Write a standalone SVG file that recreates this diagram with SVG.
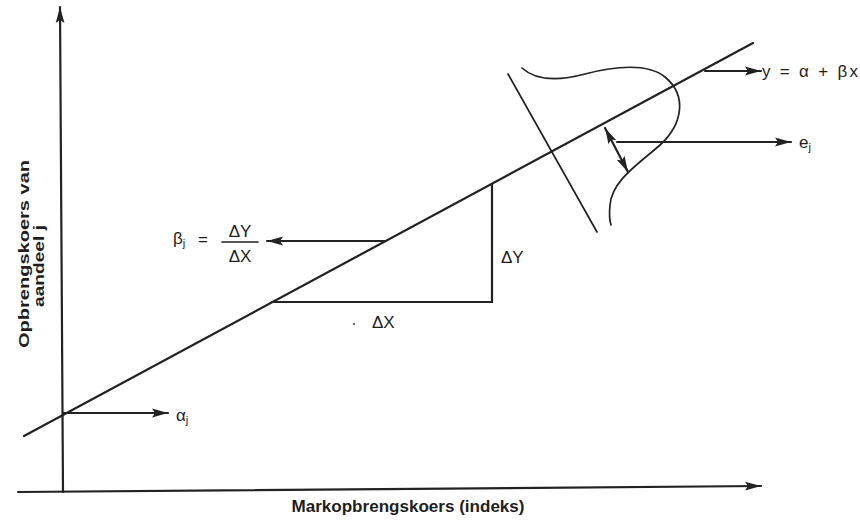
<svg xmlns="http://www.w3.org/2000/svg" width="860" height="522" viewBox="0 0 860 522">
<style>
.ln{stroke:#222;stroke-width:2.2;fill:none;stroke-linecap:round}
.thin{stroke:#222;stroke-width:1.7;fill:none;stroke-linecap:round}
.arr{marker-end:url(#ah)}
.t{font-family:"Liberation Sans","DejaVu Sans",Arial,sans-serif;fill:#1e1e1e}
.b{font-weight:bold}
</style>
<defs>
<marker id="ah" markerUnits="userSpaceOnUse" markerWidth="18" markerHeight="10" refX="16" refY="5" orient="auto-start-reverse">
<path d="M0,0.6 L16,5 L0,9.4 L3,5 z" fill="#222"/>
</marker>
</defs>
<rect width="860" height="522" fill="#fff"/>
<g id="axes">
<line class="ln arr" x1="63" y1="492" x2="60" y2="7"/>
<line class="ln arr" x1="18" y1="492" x2="761" y2="486"/>
</g>
<g id="regression-line">
<line class="ln" x1="24" y1="436" x2="753" y2="43"/>
</g>
<g id="triangle">
<polyline class="ln" points="272,302 492,302 492,184"/>
</g>
<g id="distribution">
<line class="thin" x1="508" y1="74" x2="597" y2="232"/>
<path class="thin" d="M522,68 C535,80 555,82 585,74 C615,66 648,63 665,77 C688,96 682,125 660,145 C640,163 612,180 610,205 C609,215 610,222 611,225"/>
</g>
<g id="connectors">
<line class="ln arr" x1="385" y1="241" x2="267" y2="241"/>
<line class="ln arr" x1="63" y1="413" x2="168" y2="413"/>
<line class="ln arr" x1="617" y1="142" x2="791" y2="142"/>
<line class="ln arr" x1="705" y1="71" x2="761" y2="71"/>
<line class="ln arr" x1="605" y1="128" x2="628" y2="172" style="marker-start:url(#ah)"/>
</g>
<g id="labels">
<text class="t" x="762" y="77" font-size="17" textLength="96">y = α + βx</text>
<text class="t" x="799" y="148" font-size="17">e<tspan font-size="11" dy="3">j</tspan></text>
<text class="t" x="176" y="421" font-size="17">α<tspan font-size="11" dy="3">j</tspan></text>
<text class="t" x="501" y="263" font-size="17">ΔY</text>
<text class="t" x="372" y="328" font-size="17">ΔX</text>
<circle cx="354" cy="324" r="1.1" fill="#444"/>
<g id="beta">
<text class="t" x="173" y="244" font-size="17">β<tspan font-size="11" dy="3">j</tspan></text>
<text class="t" x="198" y="245" font-size="17">=</text>
<text class="t" x="240" y="237" font-size="17" text-anchor="middle">ΔY</text>
<line class="thin" x1="222" y1="242" x2="258" y2="242"/>
<text class="t" x="240" y="262" font-size="17" text-anchor="middle">ΔX</text>
</g>
<text class="t b" x="408" y="512" font-size="16" text-anchor="middle" textLength="233" lengthAdjust="spacingAndGlyphs">Markopbrengskoers (indeks)</text>
<text class="t b" transform="translate(29,254) rotate(-90)" font-size="14" text-anchor="middle" textLength="188" lengthAdjust="spacingAndGlyphs">Opbrengskoers van</text>
<text class="t b" transform="translate(44,266) rotate(-90)" font-size="14" text-anchor="middle" textLength="82" lengthAdjust="spacingAndGlyphs">aandeel j</text>
</g>
</svg>
